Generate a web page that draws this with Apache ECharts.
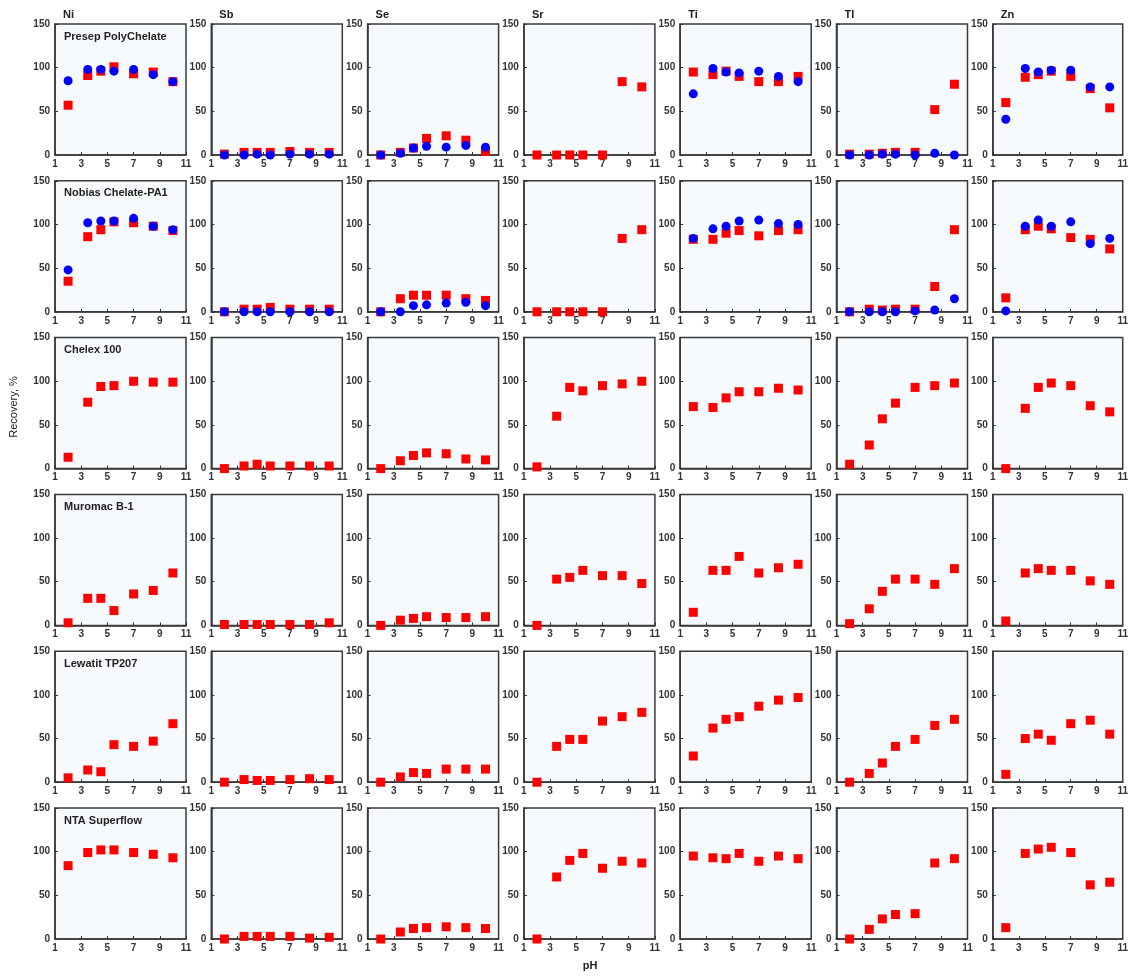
<!DOCTYPE html>
<html>
<head>
<meta charset="utf-8">
<script src="https://cdn.jsdelivr.net/npm/echarts@6/dist/echarts.min.js"></script>
<style>
html,body{margin:0;padding:0;background:#fff;}
#chart{width:1131px;height:976px;}
</style>
</head>
<body>
<div id="chart"></div>
<script>
// ---- data ----
const pH = [2, 3.5, 4.5, 5.5, 7, 8.5, 10];
const elements = ['Ni', 'Sb', 'Se', 'Sr', 'Ti', 'Tl', 'Zn'];
const resins = ['Presep PolyChelate', 'Nobias Chelate-PA1', 'Chelex 100', 'Muromac B-1', 'Lewatit TP207', 'NTA Superflow'];
const xTickLabels = [1, 3, 5, 7, 9, 11];
const yTickLabels = [0, 50, 100, 150];
const xLabel = 'pH';
const yLabel = 'Recovery, %';

// red squares, one row per element (Ni, Sb, Se, Sr, Ti, Tl, Zn)
const presepRed = [
  [57, 91, 96, 101, 93, 95, 84],
  [1, 3, 3, 3, 4, 3, 3],
  [0, 3, 8, 19, 22, 17, 4],
  [0, 0, 0, 0, 0, 84, 78],
  [95, 92, 96, 90, 84, 84, 90],
  [1, 1, 2, 3, 3, 52, 81],
  [60, 89, 92, 96, 90, 76, 54]
];
// blue circles
const presepBlue = [
  [85, 98, 98, 96, 98, 92, 84],
  [0, 0, 1, 0, 1, 1, 1],
  [0, 2, 8, 10, 9, 11, 9],
  null,
  [70, 99, 95, 94, 96, 90, 84],
  [0, 0, 1, 1, 0, 2, 0],
  [41, 99, 95, 97, 97, 78, 78]
];
const nobiasRed = [
  [35, 86, 94, 103, 102, 98, 93],
  [0, 3, 3, 5, 3, 3, 3],
  [0, 15, 19, 19, 19, 15, 13],
  [0, 0, 0, 0, 0, 84, 94],
  [83, 83, 90, 93, 87, 93, 94],
  [0, 3, 2, 3, 3, 29, 94],
  [16, 94, 98, 95, 85, 83, 72]
];
const nobiasBlue = [
  [48, 102, 104, 104, 107, 98, 94],
  [0, 0, 0, 0, 0, 0, 0],
  [0, 0, 7, 8, 10, 11, 7],
  null,
  [84, 95, 98, 104, 105, 101, 100],
  [0, 0, 0, 0, 1, 2, 15],
  [1, 98, 105, 98, 103, 78, 84]
];
const chelexRed = [
  [13, 76, 94, 95, 100, 99, 99],
  [0, 3, 5, 3, 3, 3, 3],
  [0, 9, 15, 18, 17, 11, 10],
  [2, 60, 93, 89, 95, 97, 100],
  [71, 70, 81, 88, 88, 92, 90],
  [5, 27, 57, 75, 93, 95, 98],
  [0, 69, 93, 98, 95, 72, 65]
];
const muromacRed = [
  [3, 31, 31, 17, 36, 40, 60],
  [1, 1, 1, 1, 1, 1, 3],
  [0, 6, 8, 10, 9, 9, 10],
  [0, 53, 55, 63, 57, 57, 48],
  [15, 63, 63, 79, 60, 66, 70],
  [2, 19, 39, 53, 53, 47, 65],
  [5, 60, 65, 63, 63, 51, 47]
];
const lewatitRed = [
  [5, 14, 12, 43, 41, 47, 67],
  [0, 3, 2, 2, 3, 4, 3],
  [0, 6, 11, 10, 15, 15, 15],
  [0, 41, 49, 49, 70, 75, 80],
  [30, 62, 72, 75, 87, 94, 97],
  [0, 10, 22, 41, 49, 65, 72],
  [9, 50, 55, 48, 67, 71, 55]
];
const ntaRed = [
  [84, 99, 102, 102, 99, 97, 93],
  [0, 3, 3, 3, 3, 1, 2],
  [0, 8, 12, 13, 14, 13, 12],
  [0, 71, 90, 98, 81, 89, 87],
  [95, 93, 92, 98, 89, 95, 92],
  [0, 11, 23, 28, 29, 87, 92],
  [13, 98, 103, 105, 99, 62, 65]
];

const redByResin = [presepRed, nobiasRed, chelexRed, muromacRed, lewatitRed, ntaRed];
const blueByResin = [presepBlue, nobiasBlue, null, null, null, null];

// ---- layout ----
const FONT = '"Liberation Sans", Arial, sans-serif';
const G_LEFT0 = 55, G_STEPX = 156.3, G_TOP0 = 24, G_STEPY = 156.8, G_W = 131, G_H = 131;

const grids = [], xAxes = [], yAxes = [], series = [], titles = [];
let idx = 0;
for (let r = 0; r < resins.length; r++) {
  for (let c = 0; c < elements.length; c++) {
    const left = G_LEFT0 + c * G_STEPX;
    const top = G_TOP0 + r * G_STEPY;
    grids.push({
      left: left, top: top, width: G_W, height: G_H,
      show: true, backgroundColor: '#f6fafc', borderColor: '#3a3a3a', borderWidth: 1.5
    });
    xAxes.push({
      gridIndex: idx, type: 'value', min: xTickLabels[0], max: xTickLabels[xTickLabels.length - 1], interval: 2,
      axisLine: {show: true, onZero: false, lineStyle: {color: '#3a3a3a', width: 1.5}},
      axisTick: {show: true, inside: true, length: 3, lineStyle: {color: '#333'}},
      axisLabel: {fontSize: 10, fontWeight: 'bold', color: '#333', margin: 4, fontFamily: FONT},
      splitLine: {show: false}
    });
    yAxes.push({
      gridIndex: idx, type: 'value', min: yTickLabels[0], max: yTickLabels[yTickLabels.length - 1], interval: 50,
      axisLine: {show: true, onZero: false, lineStyle: {color: '#3a3a3a', width: 1.5}},
      axisTick: {show: true, inside: true, length: 3, lineStyle: {color: '#333'}},
      axisLabel: {fontSize: 10, fontWeight: 'bold', color: '#333', margin: 5, fontFamily: FONT},
      splitLine: {show: false}
    });
    const red = redByResin[r][c];
    if (red) {
      series.push({
        type: 'scatter', xAxisIndex: idx, yAxisIndex: idx, symbol: 'rect', symbolSize: 9,
        itemStyle: {color: '#ff0000', opacity: 1}, z: 2,
        data: pH.map((x, i) => [x, red[i]])
      });
    }
    const blueSet = blueByResin[r];
    const blue = blueSet ? blueSet[c] : null;
    if (blue) {
      series.push({
        type: 'scatter', xAxisIndex: idx, yAxisIndex: idx, symbol: 'circle', symbolSize: 9,
        itemStyle: {color: '#0000ff', opacity: 1}, z: 3,
        data: pH.map((x, i) => [x, blue[i]])
      });
    }
    if (r === 0) {
      titles.push({text: elements[c], left: left + 8, top: 9, padding: 0,
        textStyle: {fontSize: 11, fontWeight: 'bold', color: '#222', fontFamily: FONT}});
    }
    if (c === 0) {
      titles.push({text: resins[r], left: left + 9, top: top + 7, padding: 0,
        textStyle: {fontSize: 11, fontWeight: 'bold', color: '#222', fontFamily: FONT}});
    }
    idx++;
  }
}

const chart = echarts.init(document.getElementById('chart'), null, {renderer: 'canvas'});
chart.setOption({
  animation: false,
  backgroundColor: '#ffffff',
  textStyle: {fontFamily: FONT},
  title: titles,
  grid: grids,
  xAxis: xAxes,
  yAxis: yAxes,
  series: series,
  graphic: [
    {type: 'text', x: 14, y: 407, rotation: Math.PI / 2,
      style: {text: yLabel, font: '11px ' + FONT, fill: '#222', align: 'center', verticalAlign: 'middle'}},
    {type: 'text', x: 590, y: 966,
      style: {text: xLabel, font: 'bold 11px ' + FONT, fill: '#222', align: 'center', verticalAlign: 'middle'}}
  ]
});
</script>
</body>
</html>
